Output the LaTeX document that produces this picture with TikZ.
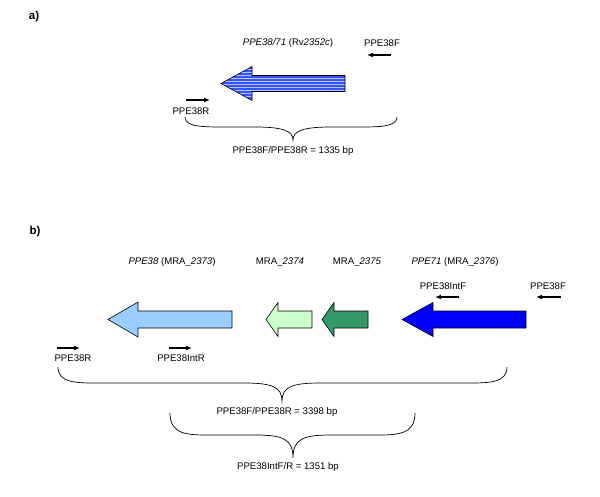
\documentclass[tikz,border=0pt]{standalone}
\usepackage{fontspec}
\setmainfont{Liberation Sans}
\usetikzlibrary{arrows.meta,patterns}
\definecolor{hatchblue}{HTML}{3355FF}
\definecolor{lightblue}{HTML}{99CCFF}
\definecolor{lightgreen}{HTML}{CCFFCC}
\definecolor{darkgreen}{HTML}{339966}
\definecolor{pureblue}{HTML}{0000FF}
\tikzset{
  lbl/.style={font=\fontsize{9.6}{11}\selectfont, inner sep=0pt, anchor=center},
  panel/.style={font=\bfseries\fontsize{11.5}{13}\selectfont, inner sep=0pt},
  primer/.style={line width=1.2pt, -{Latex[length=6pt,width=5pt]}},
  gene/.style={draw=black, line width=0.6pt, line join=miter},
  bracestyle/.style={draw=black, line width=0.7pt},
}
% tip x, head base x, tail x, centre y, head half-height, shaft half-height
\newcommand\genearrow[7]{%
  \path[#7] (#1,#4) -- (#2,#4-#5) -- (#2,#4-#6) -- (#3,#4-#6) -- (#3,#4+#6) -- (#2,#4+#6) -- (#2,#4+#5) -- cycle;}
% left x, top y, bottom y, mid x, tip y, right x
\newcommand\curlybrace[6]{%
  \path[bracestyle] (#1,#2) .. controls (#1,#3) and (#1+18,#3) .. (#1+40,#3)
    -- (#4-38,#3) .. controls (#4-10,#3) and (#4,#3+4) .. (#4,#5)
    .. controls (#4,#3+4) and (#4+10,#3) .. (#4+38,#3)
    -- (#6-40,#3) .. controls (#6-18,#3) and (#6,#3) .. (#6,#2);}
\begin{document}
\begin{tikzpicture}[x=1pt,y=-1pt]
\useasboundingbox (0,0) rectangle (600,496);
% ---------- panel a ----------
\node[panel] (pa) at (34,17) {a)};
\node[lbl] (ga) at (288,43) {\textit{PPE38/71} (Rv\textit{2352c})};
\genearrow{221}{252}{345}{83.5}{17}{8}{fill=hatchblue}
\genearrow{221}{252}{345}{83.5}{17}{8}{pattern=horizontal lines, pattern color=hatchblue!35!white}
\genearrow{221}{252}{345}{83.5}{17}{8}{gene}
\node[lbl] (fa) at (382,43) {PPE38F};
\coordinate (fa1) at (391,55); \coordinate (fa2) at (367,55);
\draw[primer] (fa1) -- (fa2);
\coordinate (ra1) at (186,100); \coordinate (ra2) at (210,100);
\draw[primer] (ra1) -- (ra2);
\node[lbl] (ra) at (191,111) {PPE38R};
\curlybrace{185}{117}{127}{293}{140}{397}
\node[lbl] (sa) at (293,151) {PPE38F/PPE38R = 1335 bp};
% ---------- panel b ----------
\node[panel] (pb) at (35,232) {b)};
\node[lbl] (g1) at (172,262) {\textit{PPE38} (MRA\_\textit{2373})};
\node[lbl] (g2) at (280,262) {MRA\_\textit{2374}};
\node[lbl] (g3) at (357,262) {MRA\_\textit{2375}};
\node[lbl] (g4) at (455,262) {\textit{PPE71} (MRA\_\textit{2376})};
\genearrow{108}{138}{232}{319.5}{17.5}{8.5}{gene, fill=lightblue}
\genearrow{266}{278}{312}{319.5}{17}{8.5}{gene, fill=lightgreen}
\genearrow{322}{334}{368}{319.5}{17}{8.5}{gene, fill=darkgreen}
\genearrow{402}{433}{526}{319.5}{17}{8.5}{gene, fill=pureblue}
\node[lbl] (fi) at (443,286) {PPE38IntF};
\coordinate (fi1) at (459,297); \coordinate (fi2) at (435,297);
\draw[primer] (fi1) -- (fi2);
\node[lbl] (fb) at (548,286) {PPE38F};
\coordinate (fb1) at (561,297); \coordinate (fb2) at (536,297);
\draw[primer] (fb1) -- (fb2);
\coordinate (rb1) at (57,348); \coordinate (rb2) at (80,348);
\draw[primer] (rb1) -- (rb2);
\node[lbl] (rb) at (73,358) {PPE38R};
\coordinate (ri1) at (169,348); \coordinate (ri2) at (192,348);
\draw[primer] (ri1) -- (ri2);
\node[lbl] (ri) at (181,358) {PPE38IntR};
\curlybrace{58}{367}{383}{282}{401}{507}
\node[lbl] (sb) at (277,412) {PPE38F/PPE38R = 3398 bp};
\curlybrace{170}{413}{435}{293}{458}{415}
\node[lbl] (si) at (288,467) {PPE38IntF/R = 1351 bp};
\end{tikzpicture}
\end{document}
